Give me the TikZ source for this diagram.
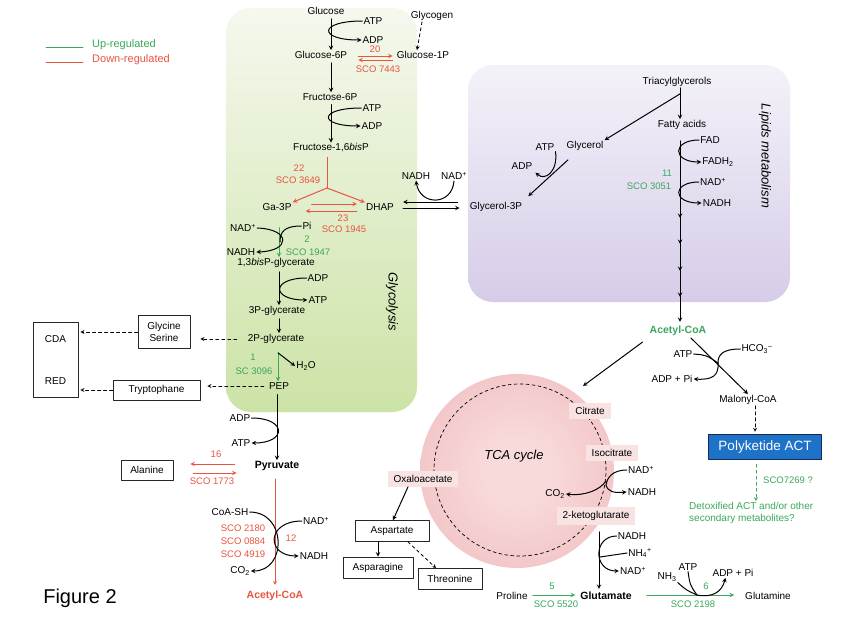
\documentclass[tikz,border=0pt]{standalone}
\usepackage{fontspec}
\setmainfont{Liberation Sans}
\definecolor{upgreen}{RGB}{58,168,92}
\definecolor{downred}{RGB}{233,84,64}
\definecolor{glyctop}{RGB}{245,248,238}
\definecolor{glycbot}{RGB}{204,227,166}
\definecolor{liptop}{RGB}{244,242,249}
\definecolor{lipbot}{RGB}{214,204,232}
\definecolor{tcain}{RGB}{248,218,218}
\definecolor{tcaout}{RGB}{236,172,176}
\definecolor{tcalbl}{RGB}{248,226,226}
\definecolor{actblue}{RGB}{30,114,200}
\definecolor{actedge}{RGB}{22,42,90}
\pgfdeclareradialshading{tcashade}{\pgfpointorigin}{color(0bp)=(tcain); color(8bp)=(tcain); color(50bp)=(tcaout)}
\begin{document}
\begin{tikzpicture}[>=stealth,line join=round,line cap=round,x=1pt,y=-1pt,
	every node/.style={font=\fontsize{10}{12}\selectfont,inner sep=1pt},
	enz/.style={font=\fontsize{9.5}{13}\selectfont},
	upreg/.style={color=upgreen},
	downreg/.style={color=downred},
	met/.style={font=\fontsize{10.5}{12}\selectfont\bfseries},
	region/.style={font=\fontsize{13}{15}\selectfont\itshape},
	box/.style={draw=black!85,line width=0.8pt,inner sep=3pt},
	tcabox/.style={fill=tcalbl,inner xsep=6pt,inner ysep=4pt},
	rxn/.style={->,line width=1pt},
	cof/.style={line width=1pt}]
		\useasboundingbox (0,0) rectangle (850,629);
		\fill[white] (0,0) rectangle (850,629);
		\shade[top color=glyctop,bottom color=glycbot,rounded corners=25pt] (226,8) rectangle (417,412);
		\shade[top color=liptop,bottom color=lipbot,rounded corners=25pt] (468,65) rectangle (790,302);
		\shade[shading=tcashade] (517,471) circle (97pt);
		\draw[dashed,line width=0.7pt] (520,470) circle (86pt);
		% legend
		\node[upreg,anchor=west,font=\fontsize{11}{13}\selectfont] (legup) at (91,45) {Up-regulated};
		\node[downreg,anchor=west,font=\fontsize{11}{13}\selectfont] (legdown) at (91,60) {Down-regulated};
		\draw[upreg,line width=1pt] ([xshift=-8pt,yshift=-2pt]legup.west) -- ++(-37,0);
		\draw[downreg,line width=1pt] ([xshift=-8pt,yshift=-2pt]legdown.west) -- ++(-37,0);
		% glycolysis
		\node (glc) at (326,11) {Glucose};
		\node (atpa) at (373,21) {ATP};
		\node (adpa) at (373,40) {ADP};
		\node (g6p) at (321,55) {Glucose-6P};
		\node (glyg) at (432,16) {Glycogen};
		\node (g1p) at (423,55) {Glucose-1P};
		\node[enz,downreg] (e20) at (375,49) {20};
		\node[enz,downreg] (s7443) at (378,69) {SCO 7443};
		\node (f6p) at (330,97) {Fructose-6P};
		\node (atpb) at (372,108) {ATP};
		\node (adpb) at (372,126) {ADP};
		\node (fbp) at (331,148) {Fructose-1,6\textit{bis}P};
		\node[enz,downreg] (e22) at (299,168) {22};
		\node[enz,downreg] (s3649) at (298,180) {SCO 3649};
		\coordinate (fork) at (327,188);
		\node (ga3p) at (277,207) {Ga-3P};
		\node (dhap) at (380,207) {DHAP};
		\node[enz,downreg] (e23) at (343,218) {23};
		\node[enz,downreg] (s1945) at (344,229) {SCO 1945};
		\node (nadhc) at (416,176) {NADH};
		\node (nadc) at (454,176) {NAD\textsuperscript{+}};
		\node (g3p) at (496,207) {Glycerol-3P};
		\node (nadd) at (243,228) {NAD\textsuperscript{+}};
		\node (pid) at (307,226) {Pi};
		\coordinate (pij) at (280,242);
		\node (nadhd) at (241,252) {NADH};
		\node[enz,upreg] (e2) at (307,239) {2};
		\node[enz,upreg] (s1947) at (308,252) {SCO 1947};
		\node (bpg) at (276,263) {1,3\textit{bis}P-glycerate};
		\node (adpe) at (318,278) {ADP};
		\node (atpe) at (318,300) {ATP};
		\node (pg3) at (277,311) {3P-glycerate};
		\node (pg2) at (276,339) {2P-glycerate};
		\node[enz,upreg] (e1) at (253,357) {1};
		\node[enz,upreg] (s3096) at (254,371) {SC 3096};
		\node (h2o) at (306,366) {H\textsubscript{2}O};
		\node (pep) at (279,386) {PEP};
		\node[region,rotate=-90] (glylbl) at (392,302) {Glycolysis};
		% left side
		\node[box,align=center,minimum width=52pt,minimum height=33pt] (glyser) at (164,332) {Glycine\\Serine};
		\node[box,minimum width=87pt,minimum height=20pt] (trp) at (156.5,390) {Tryptophane};
		\node[box,align=left,minimum width=45pt,minimum height=75pt] (cdared) at (55.5,360) {CDA\\[30pt]RED};
		\node (adpf) at (240,418) {ADP};
		\node (atpf) at (241,443) {ATP};
		\node[met] (pyr) at (277,466) {Pyruvate};
		\node[box,minimum width=52pt,minimum height=20pt] (ala) at (147,470) {Alanine};
		\node[enz,downreg] (e16) at (216,454) {16};
		\node[enz,downreg] (s1773) at (212,481) {SCO 1773};
		\node (coash) at (230,512) {CoA-SH};
		\node (nade) at (316,521) {NAD\textsuperscript{+}};
		\node (nadhe) at (314,556) {NADH};
		\node (co2a) at (240,571) {CO\textsubscript{2}};
		\node[enz,downreg,align=center] (s2180) at (243,541) {SCO 2180\\SCO 0884\\SCO 4919};
		\node[enz,downreg] (e12) at (291,538) {12};
		\node[met,downreg] (acoaa) at (275,596) {Acetyl-CoA};
		\node[font=\fontsize{20}{24}\selectfont] (fig) at (80,598) {Figure 2};
		% lipids
		\node (tag) at (677,82) {Triacylglycerols};
		\node (fa) at (682,125) {Fatty acids};
		\node (glol) at (585,146) {Glycerol};
		\node (atpg) at (545,147) {ATP};
		\node (adpg) at (522,166) {ADP};
		\node (fad) at (710,140) {FAD};
		\node (fadh) at (718,162) {FADH\textsubscript{2}};
		\node (nadg) at (713,182) {NAD\textsuperscript{+}};
		\node (nadhg) at (717,203) {NADH};
		\node[enz,upreg] (e11) at (667,173) {11};
		\node[enz,upreg] (s3051) at (649,186) {SCO 3051};
		\node[region,rotate=-90] (liplbl) at (765,156) {Lipids metabolism};
		% acetyl-CoA and ACT
		\node[met,upreg] (acoab) at (678,331) {Acetyl-CoA};
		\node (atph) at (683,354) {ATP};
		\node (hco) at (757,349) {HCO\textsubscript{3}\textsuperscript{--}};
		\node (adph) at (672,379) {ADP + Pi};
		\coordinate (mj) at (718,363);
		\node (mal) at (748,400) {Malonyl-CoA};
		\node[draw=actedge,line width=1.5pt,fill=actblue,text=white,font=\fontsize{13.5}{16}\selectfont,minimum width=113pt,minimum height=25pt] (act) at (765,447) {Polyketide ACT};
		\node[enz,upreg] (s7269) at (788,480) {SCO7269 ?};
		\node[upreg,align=left,anchor=west] (detox) at (688,513) {Detoxified ACT and/or other\\secondary metabolites?};
		% TCA cycle
		\coordinate (tcain) at (583,386);
		\node[tcabox] (cit) at (590,411) {Citrate};
		\node[tcabox] (icit) at (612,453) {Isocitrate};
		\node[tcabox] (oaa) at (423,479) {Oxaloacetate};
		\node[tcabox] (akg) at (596,516) {2-ketoglutarate};
		\node[region] (tcalbl) at (514,456) {TCA cycle};
		\node (co2b) at (555,494) {CO\textsubscript{2}};
		\node (nadi) at (641,470) {NAD\textsuperscript{+}};
		\node (nadhi) at (642,492) {NADH};
		\coordinate (kj) at (606,485);
		\node (nadhj) at (632,536) {NADH};
		\node (nh4) at (640,553) {NH\textsubscript{4}\textsuperscript{+}};
		\coordinate (nhj) at (600,557);
		\node (nadj) at (633,571) {NAD\textsuperscript{+}};
		\node[met] (glu) at (606,596) {Glutamate};
		\node (pro) at (512,596) {Proline};
		\node[enz,upreg] (e5) at (552,586) {5};
		\node[enz,upreg] (s5520) at (556,604) {SCO 5520};
		\node (nh3) at (667,577) {NH\textsubscript{3}};
		\node (atpk) at (688,567) {ATP};
		\node (adpk) at (733,573) {ADP + Pi};
		\coordinate (gj) at (697,595);
		\node[enz,upreg] (e6) at (706,586) {6};
		\node[enz,upreg] (s2198) at (693,604) {SCO 2198};
		\node (gln) at (768,596) {Glutamine};
		\node[box,minimum width=74pt,minimum height=21pt] (asp) at (392,531) {Aspartate};
		\node[box,minimum width=70pt,minimum height=21pt] (asn) at (378,567.5) {Asparagine};
		\node[box,minimum width=64pt,minimum height=21pt] (thr) at (450,579) {Threonine};
		% glycolysis arrows
		\draw[rxn,shorten <=3pt] ([xshift=5pt]glc.south) -- ([xshift=10pt]g6p.north);
		\draw[rxn] (atpa.west) .. controls (318,21) and (318,40) .. (adpa.west);
		\draw[->,dashed,line width=0.8pt] ([xshift=-10pt]glyg.south) -- ([xshift=-6pt]g1p.north);
		\draw[->,downreg,line width=1pt] ([xshift=10pt,yshift=-1pt]g6p.east) -- ([xshift=-3pt,yshift=-1pt]g1p.west);
		\draw[->,downreg,line width=1pt] ([xshift=-3pt,yshift=-5pt]g1p.west) -- ([xshift=10pt,yshift=-5pt]g6p.east);
		\draw[rxn,shorten <=3pt] ([xshift=10pt]g6p.south) -- ([xshift=1pt]f6p.north);
		\draw[rxn] (atpb.west) .. controls (318,108) and (318,126) .. (adpb.west);
		\draw[rxn,shorten <=3pt] ([xshift=1pt]f6p.south) -- (fbp.north);
		\draw[downreg,line width=1pt,shorten <=4pt] (fbp.south -| fork) -- (fork);
		\draw[->,downreg,line width=1pt] (fork) -- (ga3p.north east);
		\draw[->,downreg,line width=1pt] (fork) -- (dhap.north west);
		\draw[->,downreg,line width=1pt] ([xshift=19pt,yshift=3pt]ga3p.east) -- ([xshift=-8pt,yshift=3pt]dhap.west);
		\draw[->,downreg,line width=1pt] ([xshift=-8pt,yshift=-4pt]dhap.west) -- ([xshift=13pt,yshift=-4pt]ga3p.east);
		\draw[rxn] ([xshift=-11pt,yshift=5pt]g3p.west) -- ([xshift=8pt,yshift=5pt]dhap.east);
		\draw[rxn] ([xshift=8pt,yshift=-1pt]dhap.east) -- ([xshift=-9pt,yshift=-1pt]g3p.west);
		\draw[rxn] (nadc.south) .. controls (452,206) and (420,206) .. (nadhc.south);
		\draw[->,upreg,line width=1pt] ([xshift=2pt,yshift=-16pt]ga3p.south) -- ([xshift=3pt]bpg.north);
		\draw[rxn] (nadd.east) .. controls (291,229) and (291,251) .. (nadhd.east);
		\draw[cof] (pid.west) .. controls (284,226) and (280,232) .. (pij);
		\draw[rxn,shorten <=3pt] ([xshift=3pt]bpg.south) -- ([xshift=2pt]pg3.north);
		\draw[rxn] (adpe.west) .. controls (271,278) and (271,300) .. (atpe.west);
		\draw[rxn,shorten <=2pt] ([xshift=2pt]pg3.south) -- ([xshift=3pt]pg2.north);
		\draw[->,dashed,line width=0.8pt] ([xshift=-10pt]pg2.west) -- ([xshift=10pt]pg2.west -| glyser.east);
		\draw[->,dashed,line width=0.8pt,shorten >=2pt] (glyser.west) -- (glyser.west -| cdared.east);
		\draw[->,upreg,line width=1pt] ([xshift=2pt,yshift=-8pt]pg2.south) -- ([xshift=-1pt]pep.north);
		\draw[rxn] ([xshift=2pt,yshift=-8pt]pg2.south) -- (h2o.west);
		\draw[->,dashed,line width=0.8pt] ([xshift=-4pt]pep.west) -- ([xshift=7pt]pep.west -| trp.east);
		\draw[->,dashed,line width=0.8pt,shorten >=2pt] (trp.west) -- (trp.west -| cdared.east);
		\draw[rxn,shorten <=4pt] ([xshift=-2pt]pep.south) -- (pyr.north);
		\draw[rxn] (adpf.east) .. controls (287,418) and (287,443) .. (atpf.east);
		\draw[->,downreg,line width=1pt] ([xshift=-19pt,yshift=2pt]pyr.west) -- ([xshift=17pt,yshift=2pt]pyr.west -| ala.east);
		\draw[->,downreg,line width=1pt] ([xshift=20pt,yshift=-7pt]pyr.west -| ala.east) -- ([xshift=-17pt,yshift=-7pt]pyr.west);
		\draw[->,downreg,line width=0.8pt,shorten <=7pt,shorten >=5pt] ([xshift=-2pt]pyr.south) -- (acoaa.north);
		\draw[rxn] (coash.east) .. controls (287,512) and (287,571) .. (co2a.east);
		\draw[rxn] (nade.west) .. controls (266,521) and (266,556) .. (nadhe.west);
		% lipid arrows
		\draw[rxn] ([xshift=3pt]tag.south) -- ([xshift=-2pt]fa.north);
		\draw[rxn] ([xshift=3pt,yshift=-6pt]tag.south) -- (glol.north east);
		\draw[rxn] ([xshift=-17pt,yshift=-8pt]glol.south) -- ([xshift=5pt,yshift=5pt]g3p.north east);
		\draw[rxn] (atpg.south east) .. controls (558,172) and (545,181) .. ([xshift=2pt,yshift=-2pt]adpg.south east);
		\draw[rxn,shorten >=3pt] ([xshift=-2pt,yshift=-10pt]fa.south) -- ([xshift=2pt]acoab.north);
		\foreach \yy in {218,244,271,297} \draw[rxn] (680,\yy-5) -- (680,\yy);
		\draw[rxn] (fad.west) .. controls (672,140) and (672,162) .. (fadh.west);
		\draw[rxn] (nadg.west) .. controls (672,182) and (672,203) .. (nadhg.west);
		% acetyl-CoA arrows
		\draw[rxn] ([xshift=-6pt,yshift=-5pt]acoab.south west) -- (tcain);
		\draw[rxn] ([xshift=13pt,yshift=-1pt]acoab.south) -- (mal.north);
		\draw[cof] (atph.east) .. controls (706,355) .. (mj);
		\draw[cof] (hco.west) .. controls (722,349) and (718,355) .. (mj);
		\draw[rxn] (mj) .. controls (719,376) and (712,380) .. (adph.east);
		\draw[->,dashed,line width=0.8pt] ([xshift=7pt]mal.south) -- ([xshift=-10pt,yshift=2pt]act.north);
		\draw[->,upreg,dashed,line width=0.8pt] ([xshift=-9pt,yshift=-4pt]act.south) -- ([xshift=-9pt]detox.north -| act.south);
		% TCA arrows
		\draw[cof] (nadi.west) .. controls (612,470) and (607,478) .. (kj);
		\draw[rxn] (kj) .. controls (608,492) and (614,493) .. (nadhi.west);
		\draw[rxn] ([yshift=4pt]kj) .. controls (600,490) and (585,496) .. (co2b.east);
		\draw[rxn,shorten <=7pt,shorten >=2pt] ([xshift=3pt]akg.south) -- ([xshift=-7pt]glu.north);
		\draw[rxn] (nadhj.west) .. controls (593,536) and (593,571) .. (nadj.west);
		\draw[cof] (nh4.west) -- (nhj);
		\draw[->,upreg,line width=1pt] ([xshift=4pt,yshift=1pt]pro.east) -- ([xshift=-4pt,yshift=1pt]glu.west);
		\draw[->,upreg,line width=1pt] ([xshift=14pt,yshift=1pt]glu.east) -- ([xshift=-10pt,yshift=1pt]gln.west);
		\draw[cof] (nh3.south east) .. controls (686,590) .. (gj);
		\draw[cof] (atpk.south) .. controls (690,585) .. (gj);
		\draw[rxn] (gj) .. controls (712,598) and (722,592) .. ([xshift=14pt]adpk.south west);
		\draw[rxn] ([xshift=-15pt]oaa.south) -- ([xshift=1pt]asp.north);
		\draw[rxn] (asn.north |- asp.south) -- (asn.north);
		\draw[->,dashed,line width=0.8pt] ([xshift=16pt]asp.south) -- ([xshift=-14pt]thr.north);
	\end{tikzpicture}
\end{document}
